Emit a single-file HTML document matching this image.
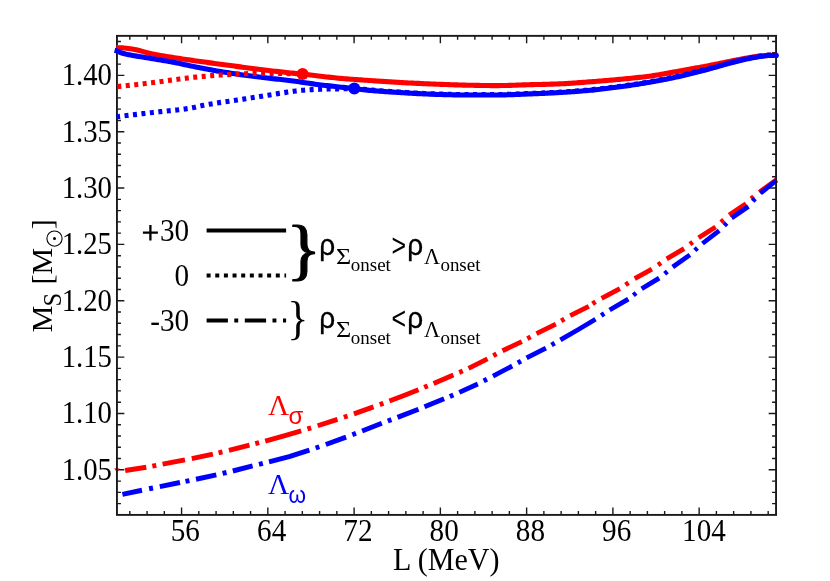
<!DOCTYPE html>
<html><head><meta charset="utf-8"><title>plot</title>
<style>html,body{margin:0;padding:0;background:#fff;overflow:hidden}svg{display:block;will-change:transform}text{font-family:"Liberation Serif",serif}</style>
</head><body>
<svg width="830" height="581" viewBox="0 0 830 581">
<rect x="0" y="0" width="830" height="581" fill="#fff"/>
<g stroke="#1a1a1a" fill="none" stroke-linecap="butt">
<path d="M129.81 514.90 v-4.00 M129.81 35.86 v4.00 M147.06 514.90 v-4.00 M147.06 35.86 v4.00 M164.32 514.90 v-4.00 M164.32 35.86 v4.00 M181.57 514.90 v-7.40 M181.57 35.86 v7.40 M198.82 514.90 v-4.00 M198.82 35.86 v4.00 M216.08 514.90 v-4.00 M216.08 35.86 v4.00 M233.33 514.90 v-4.00 M233.33 35.86 v4.00 M250.58 514.90 v-4.00 M250.58 35.86 v4.00 M267.83 514.90 v-7.40 M267.83 35.86 v7.40 M285.09 514.90 v-4.00 M285.09 35.86 v4.00 M302.34 514.90 v-4.00 M302.34 35.86 v4.00 M319.59 514.90 v-4.00 M319.59 35.86 v4.00 M336.85 514.90 v-4.00 M336.85 35.86 v4.00 M354.10 514.90 v-7.40 M354.10 35.86 v7.40 M371.35 514.90 v-4.00 M371.35 35.86 v4.00 M388.60 514.90 v-4.00 M388.60 35.86 v4.00 M405.86 514.90 v-4.00 M405.86 35.86 v4.00 M423.11 514.90 v-4.00 M423.11 35.86 v4.00 M440.36 514.90 v-7.40 M440.36 35.86 v7.40 M457.61 514.90 v-4.00 M457.61 35.86 v4.00 M474.87 514.90 v-4.00 M474.87 35.86 v4.00 M492.12 514.90 v-4.00 M492.12 35.86 v4.00 M509.37 514.90 v-4.00 M509.37 35.86 v4.00 M526.63 514.90 v-7.40 M526.63 35.86 v7.40 M543.88 514.90 v-4.00 M543.88 35.86 v4.00 M561.13 514.90 v-4.00 M561.13 35.86 v4.00 M578.38 514.90 v-4.00 M578.38 35.86 v4.00 M595.64 514.90 v-4.00 M595.64 35.86 v4.00 M612.89 514.90 v-7.40 M612.89 35.86 v7.40 M630.14 514.90 v-4.00 M630.14 35.86 v4.00 M647.40 514.90 v-4.00 M647.40 35.86 v4.00 M664.65 514.90 v-4.00 M664.65 35.86 v4.00 M681.90 514.90 v-4.00 M681.90 35.86 v4.00 M699.15 514.90 v-7.40 M699.15 35.86 v7.40 M716.41 514.90 v-4.00 M716.41 35.86 v4.00 M733.66 514.90 v-4.00 M733.66 35.86 v4.00 M750.91 514.90 v-4.00 M750.91 35.86 v4.00 M768.17 514.90 v-4.00 M768.17 35.86 v4.00 M116.95 503.62 h4.00 M776.05 503.62 h-4.00 M116.95 492.35 h4.00 M776.05 492.35 h-4.00 M116.95 481.08 h4.00 M776.05 481.08 h-4.00 M116.95 469.81 h7.40 M776.05 469.81 h-7.40 M116.95 458.54 h4.00 M776.05 458.54 h-4.00 M116.95 447.27 h4.00 M776.05 447.27 h-4.00 M116.95 436.00 h4.00 M776.05 436.00 h-4.00 M116.95 424.73 h4.00 M776.05 424.73 h-4.00 M116.95 413.46 h7.40 M776.05 413.46 h-7.40 M116.95 402.19 h4.00 M776.05 402.19 h-4.00 M116.95 390.92 h4.00 M776.05 390.92 h-4.00 M116.95 379.65 h4.00 M776.05 379.65 h-4.00 M116.95 368.38 h4.00 M776.05 368.38 h-4.00 M116.95 357.11 h7.40 M776.05 357.11 h-7.40 M116.95 345.84 h4.00 M776.05 345.84 h-4.00 M116.95 334.57 h4.00 M776.05 334.57 h-4.00 M116.95 323.30 h4.00 M776.05 323.30 h-4.00 M116.95 312.03 h4.00 M776.05 312.03 h-4.00 M116.95 300.76 h7.40 M776.05 300.76 h-7.40 M116.95 289.49 h4.00 M776.05 289.49 h-4.00 M116.95 278.22 h4.00 M776.05 278.22 h-4.00 M116.95 266.95 h4.00 M776.05 266.95 h-4.00 M116.95 255.68 h4.00 M776.05 255.68 h-4.00 M116.95 244.41 h7.40 M776.05 244.41 h-7.40 M116.95 233.14 h4.00 M776.05 233.14 h-4.00 M116.95 221.87 h4.00 M776.05 221.87 h-4.00 M116.95 210.60 h4.00 M776.05 210.60 h-4.00 M116.95 199.33 h4.00 M776.05 199.33 h-4.00 M116.95 188.06 h7.40 M776.05 188.06 h-7.40 M116.95 176.79 h4.00 M776.05 176.79 h-4.00 M116.95 165.52 h4.00 M776.05 165.52 h-4.00 M116.95 154.25 h4.00 M776.05 154.25 h-4.00 M116.95 142.98 h4.00 M776.05 142.98 h-4.00 M116.95 131.71 h7.40 M776.05 131.71 h-7.40 M116.95 120.44 h4.00 M776.05 120.44 h-4.00 M116.95 109.17 h4.00 M776.05 109.17 h-4.00 M116.95 97.90 h4.00 M776.05 97.90 h-4.00 M116.95 86.63 h4.00 M776.05 86.63 h-4.00 M116.95 75.36 h7.40 M776.05 75.36 h-7.40 M116.95 64.09 h4.00 M776.05 64.09 h-4.00 M116.95 52.82 h4.00 M776.05 52.82 h-4.00 M116.95 41.55 h4.00 M776.05 41.55 h-4.00" stroke-width="1.4"/>
</g>
<g fill="none" stroke-linejoin="round" stroke-linecap="butt" stroke-width="5.10">
<path d="M125.20 470.51 L146.30 467.20" stroke="#ff0000" stroke-width="5.01"/>
<path d="M152.32 466.11 L156.28 465.35" stroke="#ff0000" stroke-width="4.99"/>
<path d="M162.60 464.12 L185.00 459.88" stroke="#ff0000" stroke-width="5.00"/>
<path d="M191.80 458.59 L212.90 454.16" stroke="#ff0000" stroke-width="4.98"/>
<path d="M218.56 452.84 L222.44 451.92" stroke="#ff0000" stroke-width="4.97"/>
<path d="M228.90 450.35 L249.50 445.21" stroke="#ff0000" stroke-width="4.96"/>
<path d="M255.28 443.70 L259.12 442.69" stroke="#ff0000" stroke-width="4.95"/>
<path d="M265.20 441.06 L283.20 436.05 L301.20 430.81" stroke="#ff0000" stroke-width="4.94"/>
<path d="M307.42 428.94 L311.18 427.79" stroke="#ff0000" stroke-width="4.93"/>
<path d="M317.70 425.78 L337.50 419.41" stroke="#ff0000" stroke-width="4.92"/>
<path d="M343.85 417.29 L347.55 416.04" stroke="#ff0000" stroke-width="4.91"/>
<path d="M353.90 413.87 L373.50 406.92" stroke="#ff0000" stroke-width="4.90"/>
<path d="M379.78 404.62 L383.42 403.28" stroke="#ff0000" stroke-width="4.89"/>
<path d="M389.40 401.03 L403.95 395.44 L418.50 389.66" stroke="#ff0000" stroke-width="4.88"/>
<path d="M424.17 387.35 L427.73 385.89" stroke="#ff0000" stroke-width="4.87"/>
<path d="M433.60 383.45 L453.40 374.99" stroke="#ff0000" stroke-width="4.86"/>
<path d="M459.25 372.42 L462.75 370.88" stroke="#ff0000" stroke-width="4.85"/>
<path d="M468.50 368.34 L487.50 358.80" stroke="#ff0000" stroke-width="4.81"/>
<path d="M493.25 355.69 L496.55 353.92" stroke="#ff0000" stroke-width="4.80"/>
<path d="M502.50 350.80 L521.80 341.60" stroke="#ff0000" stroke-width="4.84"/>
<path d="M527.36 338.59 L530.64 336.82" stroke="#ff0000" stroke-width="4.80"/>
<path d="M536.50 333.70 L555.80 324.10" stroke="#ff0000" stroke-width="4.83"/>
<path d="M561.16 320.90 L564.34 319.02" stroke="#ff0000" stroke-width="4.77"/>
<path d="M570.20 315.70 L588.80 306.40" stroke="#ff0000" stroke-width="4.84"/>
<path d="M592.48 303.85 L595.52 301.84" stroke="#ff0000" stroke-width="4.74"/>
<path d="M601.60 298.30 L619.90 288.70" stroke="#ff0000" stroke-width="4.82"/>
<path d="M625.56 284.83 L628.54 282.78" stroke="#ff0000" stroke-width="4.72"/>
<path d="M634.70 278.70 L651.90 269.20" stroke="#ff0000" stroke-width="4.81"/>
<path d="M658.04 265.03 L660.96 262.95" stroke="#ff0000" stroke-width="4.70"/>
<path d="M666.70 258.80 L684.10 248.70" stroke="#ff0000" stroke-width="4.80"/>
<path d="M689.89 244.20 L692.71 242.04" stroke="#ff0000" stroke-width="4.67"/>
<path d="M698.60 237.80 L715.60 227.00" stroke="#ff0000" stroke-width="4.77"/>
<path d="M720.99 222.19 L723.61 219.83" stroke="#ff0000" stroke-width="4.65"/>
<path d="M729.20 215.00 L746.00 203.60" stroke="#ff0000" stroke-width="4.75"/>
<path d="M751.08 198.71 L753.72 196.39" stroke="#ff0000" stroke-width="4.65"/>
<path d="M759.30 192.10 L776.60 179.56" stroke="#ff0000" stroke-width="4.70"/>
<path d="M122.40 494.34 L142.00 490.20" stroke="#0000ff" stroke-width="4.98"/>
<path d="M149.08 488.75 L153.02 487.96" stroke="#0000ff" stroke-width="4.99"/>
<path d="M159.80 486.59 L180.00 482.53" stroke="#0000ff" stroke-width="4.99"/>
<path d="M185.48 481.42 L189.42 480.61" stroke="#0000ff" stroke-width="4.98"/>
<path d="M196.00 479.25 L216.30 474.86" stroke="#0000ff" stroke-width="4.98"/>
<path d="M222.60 473.42 L226.50 472.51" stroke="#0000ff" stroke-width="4.97"/>
<path d="M232.80 471.01 L252.60 465.97" stroke="#0000ff" stroke-width="4.96"/>
<path d="M258.97 464.34 L262.83 463.38" stroke="#0000ff" stroke-width="4.96"/>
<path d="M269.00 461.83 L289.20 456.56 L309.40 450.20" stroke="#0000ff" stroke-width="4.95"/>
<path d="M315.66 447.99 L319.34 446.71" stroke="#0000ff" stroke-width="4.90"/>
<path d="M325.80 444.44 L346.10 437.10" stroke="#0000ff" stroke-width="4.90"/>
<path d="M352.35 434.72 L355.95 433.34" stroke="#0000ff" stroke-width="4.88"/>
<path d="M362.10 430.96 L381.80 423.31" stroke="#0000ff" stroke-width="4.88"/>
<path d="M387.79 421.03 L391.41 419.66" stroke="#0000ff" stroke-width="4.89"/>
<path d="M397.50 417.36 L418.50 409.21" stroke="#0000ff" stroke-width="4.88"/>
<path d="M424.50 406.82 L444.10 398.81" stroke="#0000ff" stroke-width="4.87"/>
<path d="M449.84 396.40 L453.36 394.90" stroke="#0000ff" stroke-width="4.86"/>
<path d="M459.30 392.35 L477.80 383.94" stroke="#0000ff" stroke-width="4.85"/>
<path d="M483.64 380.97 L486.96 379.25" stroke="#0000ff" stroke-width="4.81"/>
<path d="M493.00 376.06 L512.20 366.00" stroke="#0000ff" stroke-width="4.81"/>
<path d="M517.79 362.91 L521.01 361.07" stroke="#0000ff" stroke-width="4.78"/>
<path d="M526.60 357.80 L545.90 348.20" stroke="#0000ff" stroke-width="4.83"/>
<path d="M551.50 344.94 L554.70 343.08" stroke="#0000ff" stroke-width="4.77"/>
<path d="M560.40 339.80 L577.95 329.78 L595.50 319.30" stroke="#0000ff" stroke-width="4.78"/>
<path d="M601.19 315.51 L604.21 313.50" stroke="#0000ff" stroke-width="4.73"/>
<path d="M609.60 310.00 L628.30 299.20" stroke="#0000ff" stroke-width="4.80"/>
<path d="M633.32 295.21 L636.08 293.02" stroke="#0000ff" stroke-width="4.66"/>
<path d="M641.65 288.80 L659.20 278.10" stroke="#0000ff" stroke-width="4.78"/>
<path d="M664.65 273.81 L667.35 271.56" stroke="#0000ff" stroke-width="4.65"/>
<path d="M672.70 267.00 L689.90 254.90" stroke="#0000ff" stroke-width="4.73"/>
<path d="M694.81 250.40 L697.39 248.02" stroke="#0000ff" stroke-width="4.65"/>
<path d="M702.50 243.50 L719.20 230.60" stroke="#0000ff" stroke-width="4.69"/>
<path d="M724.28 225.55 L726.72 223.02" stroke="#0000ff" stroke-width="4.65"/>
<path d="M731.60 218.00 L748.40 206.60" stroke="#0000ff" stroke-width="4.78"/>
<path d="M752.73 201.29 L755.07 198.64" stroke="#0000ff" stroke-width="4.65"/>
<path d="M760.50 193.30 L776.40 180.46" stroke="#0000ff" stroke-width="4.66"/>
</g>
<path d="M114.2 468.3 L119.7 468.5 L117.1 472.8 Z" fill="#ff0000"/>
<rect x="116.95" y="35.86" width="659.10" height="479.04" stroke="#1a1a1a" fill="none" stroke-width="1.9"/>
<g fill="none" stroke-linejoin="round" stroke-linecap="butt" stroke-width="5.10">
<path d="M116.20 47.66 L118.20 47.74 L120.21 47.81 L122.21 47.90 L124.22 48.01 L126.22 48.18 L128.22 48.41 L130.23 48.68 L132.23 49.01 L134.24 49.41 L136.24 49.86 L138.24 50.32 L140.25 50.81 L142.25 51.34 L144.26 51.91 L146.26 52.46 L148.26 52.96 L150.27 53.42 L152.27 53.87 L154.27 54.29 L156.28 54.70 L158.28 55.08 L160.29 55.45 L162.29 55.80 L164.29 56.12 L166.30 56.43 L168.30 56.74 L170.31 57.05 L172.31 57.36 L174.31 57.68 L176.32 57.99 L178.32 58.30 L180.33 58.60 L182.33 58.90 L184.33 59.20 L186.34 59.50 L188.34 59.79 L190.35 60.08 L192.35 60.37 L194.35 60.66 L196.36 60.94 L198.36 61.22 L200.37 61.50 L202.37 61.78 L204.37 62.06 L206.38 62.33 L208.38 62.60 L210.39 62.88 L212.39 63.15 L214.39 63.41 L216.40 63.68 L218.40 63.95 L220.40 64.22 L222.41 64.48 L224.41 64.75 L226.42 65.02 L228.42 65.28 L230.42 65.55 L232.43 65.82 L234.43 66.09 L236.44 66.36 L238.44 66.62 L240.44 66.89 L242.45 67.16 L244.45 67.42 L246.46 67.69 L248.46 67.95 L250.46 68.21 L252.47 68.47 L254.47 68.72 L256.48 68.97 L258.48 69.22 L260.48 69.47 L262.49 69.72 L264.49 69.96 L266.50 70.21 L268.50 70.45 L270.50 70.69 L272.51 70.93 L274.51 71.17 L276.52 71.40 L278.52 71.64 L280.52 71.86 L282.53 72.09 L284.53 72.31 L286.53 72.53 L288.54 72.75 L290.54 72.96 L292.55 73.16 L294.55 73.35 L296.55 73.54 L298.56 73.72 L300.56 73.92 L302.57 74.12 L304.57 74.33 L306.57 74.55 L308.58 74.77 L310.58 75.00 L312.59 75.24 L314.59 75.47 L316.59 75.71 L318.60 75.95 L320.60 76.20 L322.61 76.44 L324.61 76.67 L326.61 76.91 L328.62 77.14 L330.62 77.36 L332.63 77.58 L334.63 77.79 L336.63 77.99 L338.64 78.18 L340.64 78.36 L342.65 78.53 L344.65 78.70 L346.65 78.86 L348.66 79.02 L350.66 79.17 L352.66 79.33 L354.67 79.47 L356.67 79.62 L358.68 79.76 L360.68 79.90 L362.68 80.04 L364.69 80.18 L366.69 80.31 L368.70 80.45 L370.70 80.58 L372.70 80.71 L374.71 80.84 L376.71 80.98 L378.72 81.11 L380.72 81.24 L382.72 81.37 L384.73 81.50 L386.73 81.63 L388.74 81.76 L390.74 81.89 L392.74 82.01 L394.75 82.14 L396.75 82.26 L398.76 82.38 L400.76 82.50 L402.76 82.61 L404.77 82.72 L406.77 82.83 L408.78 82.94 L410.78 83.04 L412.78 83.14 L414.79 83.24 L416.79 83.33 L418.79 83.42 L420.80 83.52 L422.80 83.60 L424.81 83.69 L426.81 83.78 L428.81 83.86 L430.82 83.94 L432.82 84.02 L434.83 84.10 L436.83 84.18 L438.83 84.26 L440.84 84.33 L442.84 84.41 L444.85 84.48 L446.85 84.56 L448.85 84.63 L450.86 84.70 L452.86 84.77 L454.87 84.84 L456.87 84.91 L458.87 84.97 L460.88 85.03 L462.88 85.09 L464.89 85.14 L466.89 85.18 L468.89 85.22 L470.90 85.26 L472.90 85.30 L474.91 85.34 L476.91 85.38 L478.91 85.41 L480.92 85.45 L482.92 85.48 L484.92 85.51 L486.93 85.54 L488.93 85.56 L490.94 85.58 L492.94 85.59 L494.94 85.60 L496.95 85.60 L498.95 85.59 L500.96 85.57 L502.96 85.54 L504.96 85.50 L506.97 85.46 L508.97 85.40 L510.98 85.34 L512.98 85.28 L514.98 85.21 L516.99 85.14 L518.99 85.06 L521.00 84.99 L523.00 84.92 L525.00 84.85 L527.01 84.79 L529.01 84.73 L531.02 84.67 L533.02 84.62 L535.02 84.57 L537.03 84.52 L539.03 84.47 L541.04 84.43 L543.04 84.38 L545.04 84.33 L547.05 84.28 L549.05 84.22 L551.05 84.16 L553.06 84.10 L555.06 84.04 L557.07 83.97 L559.07 83.89 L561.07 83.81 L563.08 83.71 L565.08 83.60 L567.09 83.49 L569.09 83.36 L571.09 83.23 L573.10 83.09 L575.10 82.95 L577.11 82.80 L579.11 82.65 L581.11 82.50 L583.12 82.35 L585.12 82.20 L587.13 82.05 L589.13 81.90 L591.13 81.75 L593.14 81.60 L595.14 81.44 L597.15 81.28 L599.15 81.12 L601.15 80.96 L603.16 80.79 L605.16 80.62 L607.17 80.45 L609.17 80.28 L611.17 80.10 L613.18 79.92 L615.18 79.74 L617.18 79.56 L619.19 79.37 L621.19 79.18 L623.20 79.00 L625.20 78.81 L627.20 78.62 L629.21 78.42 L631.21 78.23 L633.22 78.03 L635.22 77.82 L637.22 77.61 L639.23 77.39 L641.23 77.17 L643.24 76.94 L645.24 76.70 L647.24 76.45 L649.25 76.20 L651.25 75.93 L653.26 75.64 L655.26 75.34 L657.26 75.02 L659.27 74.68 L661.27 74.34 L663.28 73.98 L665.28 73.62 L667.28 73.25 L669.29 72.87 L671.29 72.50 L673.30 72.12 L675.30 71.75 L677.30 71.39 L679.31 71.03 L681.31 70.67 L683.31 70.31 L685.32 69.95 L687.32 69.59 L689.33 69.23 L691.33 68.87 L693.33 68.50 L695.34 68.13 L697.34 67.77 L699.35 67.39 L701.35 67.02 L703.35 66.64 L705.36 66.27 L707.36 65.88 L709.37 65.50 L711.37 65.10 L713.37 64.70 L715.38 64.29 L717.38 63.88 L719.39 63.47 L721.39 63.06 L723.39 62.64 L725.40 62.23 L727.40 61.82 L729.41 61.41 L731.41 61.02 L733.41 60.62 L735.42 60.24 L737.42 59.87 L739.43 59.48 L741.43 59.10 L743.43 58.71 L745.44 58.32 L747.44 57.94 L749.44 57.58 L751.45 57.23 L753.45 56.91 L755.46 56.62 L757.46 56.36 L759.46 56.13 L761.47 55.91 L763.47 55.70 L765.48 55.53 L767.48 55.42 L769.48 55.35 L771.49 55.30 L773.49 55.25 L775.50 55.22 L777.50 55.20" stroke="#ff0000"/>
<path d="M114.60 50.23 L116.61 50.73 L118.61 51.73 L120.62 52.54 L122.62 53.23 L124.63 53.81 L126.63 54.28 L128.64 54.69 L130.65 55.06 L132.65 55.41 L134.66 55.77 L136.66 56.12 L138.67 56.45 L140.67 56.78 L142.68 57.10 L144.69 57.43 L146.69 57.75 L148.70 58.08 L150.70 58.42 L152.71 58.75 L154.72 59.08 L156.72 59.42 L158.73 59.75 L160.73 60.09 L162.74 60.42 L164.74 60.76 L166.75 61.09 L168.76 61.43 L170.76 61.78 L172.77 62.14 L174.77 62.53 L176.78 62.93 L178.78 63.34 L180.79 63.77 L182.80 64.20 L184.80 64.64 L186.81 65.07 L188.81 65.51 L190.82 65.94 L192.82 66.37 L194.83 66.79 L196.84 67.20 L198.84 67.59 L200.85 67.97 L202.85 68.35 L204.86 68.73 L206.86 69.10 L208.87 69.47 L210.88 69.83 L212.88 70.19 L214.89 70.54 L216.89 70.89 L218.90 71.24 L220.91 71.58 L222.91 71.91 L224.92 72.24 L226.92 72.56 L228.93 72.88 L230.93 73.19 L232.94 73.49 L234.95 73.80 L236.95 74.09 L238.96 74.39 L240.96 74.68 L242.97 74.96 L244.97 75.24 L246.98 75.52 L248.99 75.79 L250.99 76.06 L253.00 76.32 L255.00 76.58 L257.01 76.84 L259.01 77.09 L261.02 77.33 L263.03 77.56 L265.03 77.79 L267.04 78.02 L269.04 78.24 L271.05 78.45 L273.05 78.67 L275.06 78.89 L277.07 79.11 L279.07 79.33 L281.08 79.55 L283.08 79.77 L285.09 80.01 L287.10 80.24 L289.10 80.49 L291.11 80.74 L293.11 81.01 L295.12 81.28 L297.12 81.56 L299.13 81.85 L301.14 82.14 L303.14 82.43 L305.15 82.73 L307.15 83.02 L309.16 83.32 L311.16 83.61 L313.17 83.89 L315.18 84.17 L317.18 84.44 L319.19 84.70 L321.19 84.95 L323.20 85.19 L325.20 85.42 L327.21 85.65 L329.22 85.88 L331.22 86.10 L333.23 86.32 L335.23 86.54 L337.24 86.75 L339.24 86.97 L341.25 87.18 L343.26 87.39 L345.26 87.61 L347.27 87.82 L349.27 88.04 L351.28 88.26 L353.29 88.48 L355.29 88.71 L357.30 88.96 L359.30 89.20 L361.31 89.45 L363.31 89.70 L365.32 89.93 L367.33 90.15 L369.33 90.34 L371.34 90.52 L373.34 90.69 L375.35 90.85 L377.35 91.01 L379.36 91.16 L381.37 91.31 L383.37 91.45 L385.38 91.59 L387.38 91.72 L389.39 91.86 L391.39 91.99 L393.40 92.12 L395.41 92.25 L397.41 92.37 L399.42 92.50 L401.42 92.63 L403.43 92.76 L405.43 92.89 L407.44 93.01 L409.45 93.13 L411.45 93.25 L413.46 93.36 L415.46 93.47 L417.47 93.58 L419.48 93.67 L421.48 93.77 L423.49 93.86 L425.49 93.96 L427.50 94.05 L429.50 94.13 L431.51 94.22 L433.52 94.29 L435.52 94.37 L437.53 94.43 L439.53 94.49 L441.54 94.54 L443.54 94.59 L445.55 94.64 L447.56 94.69 L449.56 94.74 L451.57 94.79 L453.57 94.83 L455.58 94.87 L457.58 94.91 L459.59 94.94 L461.60 94.96 L463.60 94.98 L465.61 95.00 L467.61 95.00 L469.62 95.00 L471.62 95.00 L473.63 95.00 L475.64 95.00 L477.64 95.00 L479.65 95.00 L481.65 95.00 L483.66 95.00 L485.67 95.00 L487.67 95.00 L489.68 95.00 L491.68 95.00 L493.69 95.00 L495.69 95.00 L497.70 95.00 L499.71 94.98 L501.71 94.96 L503.72 94.92 L505.72 94.87 L507.73 94.81 L509.73 94.75 L511.74 94.67 L513.75 94.59 L515.75 94.51 L517.76 94.42 L519.76 94.34 L521.77 94.25 L523.77 94.16 L525.78 94.07 L527.79 93.99 L529.79 93.91 L531.80 93.83 L533.80 93.75 L535.81 93.67 L537.81 93.59 L539.82 93.51 L541.83 93.43 L543.83 93.34 L545.84 93.25 L547.84 93.16 L549.85 93.07 L551.86 92.97 L553.86 92.87 L555.87 92.76 L557.87 92.66 L559.88 92.55 L561.88 92.43 L563.89 92.31 L565.90 92.18 L567.90 92.05 L569.91 91.91 L571.91 91.77 L573.92 91.63 L575.92 91.48 L577.93 91.32 L579.94 91.17 L581.94 91.00 L583.95 90.83 L585.95 90.66 L587.96 90.49 L589.96 90.30 L591.97 90.11 L593.98 89.91 L595.98 89.70 L597.99 89.48 L599.99 89.26 L602.00 89.03 L604.00 88.79 L606.01 88.55 L608.02 88.30 L610.02 88.05 L612.03 87.80 L614.03 87.54 L616.04 87.29 L618.05 87.02 L620.05 86.76 L622.06 86.49 L624.06 86.21 L626.07 85.93 L628.07 85.65 L630.08 85.36 L632.09 85.06 L634.09 84.76 L636.10 84.46 L638.10 84.15 L640.11 83.83 L642.11 83.51 L644.12 83.18 L646.13 82.85 L648.13 82.52 L650.14 82.18 L652.14 81.83 L654.15 81.47 L656.15 81.11 L658.16 80.74 L660.17 80.36 L662.17 79.97 L664.18 79.58 L666.18 79.18 L668.19 78.78 L670.19 78.36 L672.20 77.94 L674.21 77.52 L676.21 77.09 L678.22 76.65 L680.22 76.21 L682.23 75.75 L684.24 75.28 L686.24 74.81 L688.25 74.32 L690.25 73.82 L692.26 73.32 L694.26 72.81 L696.27 72.30 L698.28 71.78 L700.28 71.26 L702.29 70.74 L704.29 70.22 L706.30 69.69 L708.30 69.17 L710.31 68.63 L712.32 68.08 L714.32 67.53 L716.33 66.96 L718.33 66.39 L720.34 65.81 L722.34 65.24 L724.35 64.67 L726.36 64.10 L728.36 63.55 L730.37 63.00 L732.37 62.48 L734.38 61.96 L736.38 61.47 L738.39 61.00 L740.40 60.52 L742.40 60.04 L744.41 59.58 L746.41 59.12 L748.42 58.68 L750.43 58.25 L752.43 57.85 L754.44 57.48 L756.44 57.14 L758.45 56.83 L760.45 56.53 L762.46 56.23 L764.47 55.95 L766.47 55.72 L768.48 55.56 L770.48 55.49 L772.49 55.45 L774.49 55.43 L776.50 55.41" stroke="#0000ff"/>
<circle cx="776.3" cy="55.4" r="2.55" fill="#0000ff" stroke="none"/>
<path d="M117.30 86.54 L119.31 86.35 L121.32 86.16 L123.34 85.96 L125.35 85.76 L127.36 85.56 L129.37 85.35 L131.38 85.13 L133.40 84.92 L135.41 84.70 L137.42 84.47 L139.43 84.24 L141.44 84.01 L143.46 83.78 L145.47 83.54 L147.48 83.30 L149.49 83.06 L151.50 82.81 L153.52 82.56 L155.53 82.29 L157.54 82.01 L159.55 81.73 L161.56 81.45 L163.57 81.17 L165.59 80.89 L167.60 80.61 L169.61 80.35 L171.62 80.09 L173.63 79.83 L175.65 79.57 L177.66 79.30 L179.67 79.04 L181.68 78.78 L183.69 78.52 L185.71 78.27 L187.72 78.02 L189.73 77.78 L191.74 77.55 L193.75 77.32 L195.77 77.11 L197.78 76.91 L199.79 76.72 L201.80 76.53 L203.81 76.35 L205.83 76.17 L207.84 76.00 L209.85 75.83 L211.86 75.66 L213.87 75.50 L215.89 75.35 L217.90 75.21 L219.91 75.07 L221.92 74.94 L223.93 74.81 L225.95 74.70 L227.96 74.59 L229.97 74.49 L231.98 74.38 L233.99 74.28 L236.01 74.17 L238.02 74.07 L240.03 73.97 L242.04 73.88 L244.05 73.79 L246.07 73.71 L248.08 73.64 L250.09 73.59 L252.10 73.54 L254.11 73.51 L256.12 73.50 L258.14 73.50 L260.15 73.50 L262.16 73.50 L264.17 73.50 L266.18 73.50 L268.20 73.50 L270.21 73.50 L272.22 73.50 L274.23 73.50 L276.24 73.50 L278.26 73.51 L280.27 73.51 L282.28 73.53 L284.29 73.54 L286.30 73.56 L288.32 73.58 L290.33 73.60 L292.34 73.64 L294.35 73.71 L296.36 73.79 L298.38 73.88 L300.39 73.99 L302.40 74.10" stroke="#ff0000" stroke-dasharray="4 4.5" stroke-dashoffset="0"/>
<path d="M116.60 116.80 L118.61 116.55 L120.63 116.31 L122.64 116.07 L124.66 115.82 L126.67 115.58 L128.69 115.34 L130.70 115.09 L132.72 114.85 L134.73 114.61 L136.74 114.37 L138.76 114.13 L140.77 113.89 L142.79 113.65 L144.80 113.41 L146.82 113.17 L148.83 112.94 L150.84 112.70 L152.86 112.47 L154.87 112.25 L156.89 112.04 L158.90 111.83 L160.92 111.62 L162.93 111.41 L164.95 111.21 L166.96 111.01 L168.97 110.80 L170.99 110.59 L173.00 110.37 L175.02 110.15 L177.03 109.93 L179.05 109.69 L181.06 109.44 L183.08 109.19 L185.09 108.92 L187.10 108.63 L189.12 108.34 L191.13 108.01 L193.15 107.63 L195.16 107.20 L197.18 106.74 L199.19 106.27 L201.21 105.80 L203.22 105.35 L205.23 104.94 L207.25 104.58 L209.26 104.23 L211.28 103.89 L213.29 103.56 L215.31 103.25 L217.32 102.94 L219.33 102.63 L221.35 102.34 L223.36 102.05 L225.38 101.76 L227.39 101.47 L229.41 101.19 L231.42 100.90 L233.44 100.61 L235.45 100.32 L237.46 100.03 L239.48 99.73 L241.49 99.42 L243.51 99.11 L245.52 98.80 L247.54 98.48 L249.55 98.16 L251.57 97.84 L253.58 97.52 L255.59 97.20 L257.61 96.88 L259.62 96.56 L261.64 96.24 L263.65 95.91 L265.67 95.59 L267.68 95.27 L269.69 94.95 L271.71 94.63 L273.72 94.30 L275.74 93.97 L277.75 93.64 L279.77 93.31 L281.78 92.99 L283.80 92.68 L285.81 92.38 L287.82 92.09 L289.84 91.79 L291.85 91.49 L293.87 91.21 L295.88 90.95 L297.90 90.71 L299.91 90.51 L301.93 90.33 L303.94 90.17 L305.95 90.02 L307.97 89.89 L309.98 89.76 L312.00 89.65 L314.01 89.55 L316.03 89.46 L318.04 89.37 L320.06 89.30 L322.07 89.23 L324.08 89.16 L326.10 89.10 L328.11 89.05 L330.13 89.00 L332.14 88.95 L334.16 88.91 L336.17 88.87 L338.18 88.83 L340.20 88.79 L342.21 88.76 L344.23 88.72 L346.24 88.67 L348.26 88.63 L350.27 88.59 L352.29 88.54 L354.30 88.50" stroke="#0000ff" stroke-dasharray="4 4.5" stroke-dashoffset="0.5"/>
<path d="M354.30 88.15 L356.30 88.39 L358.30 88.63 L360.30 88.88 L362.30 89.13 L364.30 89.37 L366.31 89.59 L368.31 89.79 L370.31 89.98 L372.31 90.15 L374.31 90.32 L376.31 90.48 L378.31 90.63 L380.31 90.78 L382.31 90.93 L384.31 91.07 L386.32 91.20 L388.32 91.34 L390.32 91.47 L392.32 91.60 L394.32 91.73 L396.32 91.85 L398.32 91.98 L400.32 92.11 L402.32 92.24 L404.32 92.37 L406.32 92.49 L408.33 92.61 L410.33 92.73 L412.33 92.85 L414.33 92.96 L416.33 93.07 L418.33 93.17 L420.33 93.27 L422.33 93.36 L424.33 93.45 L426.33 93.55 L428.34 93.63 L430.34 93.72 L432.34 93.80 L434.34 93.87 L436.34 93.94 L438.34 94.00 L440.34 94.06 L442.34 94.11 L444.34 94.16 L446.34 94.21 L448.34 94.26 L450.35 94.31 L452.35 94.35 L454.35 94.40 L456.35 94.44 L458.35 94.47 L460.35 94.50 L462.35 94.52 L464.35 94.54 L466.35 94.55 L468.35 94.55 L470.35 94.55 L472.36 94.55 L474.36 94.55 L476.36 94.55 L478.36 94.55 L480.36 94.55 L482.36 94.55 L484.36 94.55 L486.36 94.55 L488.36 94.55 L490.36 94.55 L492.37 94.55 L494.37 94.55 L496.37 94.55 L498.37 94.55 L500.37 94.53 L502.37 94.50 L504.37 94.45 L506.37 94.40 L508.37 94.34 L510.37 94.27 L512.37 94.20 L514.38 94.12 L516.38 94.03 L518.38 93.95 L520.38 93.86 L522.38 93.77 L524.38 93.68 L526.38 93.60 L528.38 93.51 L530.38 93.44 L532.38 93.36 L534.39 93.28 L536.39 93.20 L538.39 93.12 L540.39 93.04 L542.39 92.95 L544.39 92.87 L546.39 92.78 L548.39 92.68 L550.39 92.59 L552.39 92.49 L554.39 92.39 L556.40 92.29 L558.40 92.18 L560.40 92.07 L562.40 91.95 L564.40 91.83 L566.40 91.70 L568.40 91.57 L570.40 91.43 L572.40 91.29 L574.40 91.14 L576.41 90.99 L578.41 90.84 L580.41 90.68 L582.41 90.51 L584.41 90.35 L586.41 90.17 L588.41 90.00 L590.41 89.81 L592.41 89.62 L594.41 89.41 L596.41 89.20 L598.42 88.98 L600.42 88.76 L602.42 88.53 L604.42 88.29 L606.42 88.05 L608.42 87.80 L610.42 87.55 L612.42 87.30 L614.42 87.04 L616.42 86.79 L618.43 86.53 L620.43 86.26 L622.43 85.99 L624.43 85.71 L626.43 85.43 L628.43 85.15 L630.43 84.86 L632.43 84.56 L634.43 84.26 L636.43 83.95 L638.43 83.64 L640.44 83.33 L642.44 83.01 L644.44 82.68 L646.44 82.35 L648.44 82.02 L650.44 81.67 L652.44 81.33 L654.44 80.97 L656.44 80.61 L658.44 80.24 L660.45 79.86 L662.45 79.47 L664.45 79.08 L666.45 78.68 L668.45 78.27 L670.45 77.86 L672.45 77.44 L674.45 77.02 L676.45 76.58 L678.45 76.15 L680.45 75.70 L682.46 75.25 L684.46 74.78 L686.46 74.30 L688.46 73.82 L690.46 73.32 L692.46 72.82 L694.46 72.31 L696.46 71.80 L698.46 71.28 L700.46 70.77 L702.46 70.24 L704.47 69.72 L706.47 69.20 L708.47 68.67 L710.47 68.14 L712.47 67.59 L714.47 67.03 L716.47 66.47 L718.47 65.90 L720.47 65.32 L722.47 64.75 L724.48 64.18 L726.48 63.62 L728.48 63.07 L730.48 62.52 L732.48 62.00 L734.48 61.49 L736.48 61.00 L738.48 60.53 L740.48 60.05 L742.48 59.58 L744.48 59.11 L746.49 58.65 L748.49 58.21 L750.49 57.79 L752.49 57.39 L754.49 57.02 L756.49 56.68 L758.49 56.38 L760.49 56.07 L762.49 55.77 L764.49 55.50 L766.50 55.27 L768.50 55.11 L770.50 55.04 L772.50 55.00 L774.50 54.98 L776.50 54.96" stroke="#0000ff" stroke-dasharray="4 4.5"/>
</g>
<circle cx="302.6" cy="74" r="6" fill="#ff0000"/>
<circle cx="354.3" cy="88.6" r="6" fill="#0000ff"/>
<text transform="translate(185.37,540.60) scale(1.000,1.070)" font-size="29.20px" text-anchor="middle" fill="#000000">56</text>
<text transform="translate(271.63,540.60) scale(1.000,1.070)" font-size="29.20px" text-anchor="middle" fill="#000000">64</text>
<text transform="translate(357.90,540.60) scale(1.000,1.070)" font-size="29.20px" text-anchor="middle" fill="#000000">72</text>
<text transform="translate(444.16,540.60) scale(1.000,1.070)" font-size="29.20px" text-anchor="middle" fill="#000000">80</text>
<text transform="translate(530.43,540.60) scale(1.000,1.070)" font-size="29.20px" text-anchor="middle" fill="#000000">88</text>
<text transform="translate(616.69,540.60) scale(1.000,1.070)" font-size="29.20px" text-anchor="middle" fill="#000000">96</text>
<text transform="translate(703.95,540.60) scale(1.000,1.070)" font-size="29.20px" text-anchor="middle" fill="#000000">104</text>
<text transform="translate(112.00,479.81) scale(0.985,1.070)" font-size="29.20px" text-anchor="end" fill="#000000">1.05</text>
<text transform="translate(112.00,423.46) scale(0.985,1.070)" font-size="29.20px" text-anchor="end" fill="#000000">1.10</text>
<text transform="translate(112.00,367.11) scale(0.985,1.070)" font-size="29.20px" text-anchor="end" fill="#000000">1.15</text>
<text transform="translate(112.00,310.76) scale(0.985,1.070)" font-size="29.20px" text-anchor="end" fill="#000000">1.20</text>
<text transform="translate(112.00,254.41) scale(0.985,1.070)" font-size="29.20px" text-anchor="end" fill="#000000">1.25</text>
<text transform="translate(112.00,198.06) scale(0.985,1.070)" font-size="29.20px" text-anchor="end" fill="#000000">1.30</text>
<text transform="translate(112.00,141.71) scale(0.985,1.070)" font-size="29.20px" text-anchor="end" fill="#000000">1.35</text>
<text transform="translate(112.00,85.36) scale(0.985,1.070)" font-size="29.20px" text-anchor="end" fill="#000000">1.40</text>
<text transform="translate(446.20,569.60) scale(1.030,1.070)" font-size="29.20px" text-anchor="middle" fill="#000000">L (MeV)</text>
<g transform="translate(52.1,332.4) rotate(-90)">
<text transform="translate(0.00,0.00) scale(1.040,1.020)" font-size="29.20px" text-anchor="start" fill="#000000">M</text>
<text transform="translate(25.90,9.00) scale(1.000,1.020)" font-size="24.50px" text-anchor="start" fill="#000000">S</text>
<text transform="translate(47.80,0.00) scale(1.040,1.020)" font-size="29.20px" text-anchor="start" fill="#000000">[</text>
<text transform="translate(57.60,0.00) scale(1.040,1.020)" font-size="29.20px" text-anchor="start" fill="#000000">M</text>
<circle cx="93.8" cy="2.4" r="7.6" fill="none" stroke="#000000" stroke-width="1.1"/>
<circle cx="93.8" cy="2.4" r="1.5" fill="#000000"/>
<text transform="translate(103.20,0.00) scale(1.040,1.020)" font-size="29.20px" text-anchor="start" fill="#000000">]</text>
</g>
<text transform="translate(189.20,241.30) scale(1.000,1.070)" font-size="29.20px" text-anchor="end" fill="#000000">30</text>
<path d="M142.9 232.7 H157.9 M150.4 224.9 V240.5" stroke="#000000" stroke-width="2.3" fill="none"/>
<text transform="translate(189.20,286.20) scale(1.000,1.070)" font-size="29.20px" text-anchor="end" fill="#000000">0</text>
<text transform="translate(189.20,331.20) scale(1.000,1.070)" font-size="29.20px" text-anchor="end" fill="#000000">-30</text>
<g stroke="#000000" stroke-width="4" fill="none">
<path d="M206.6 230.4 H286.1"/>
<path d="M206.6 275.6 H286.1" stroke-dasharray="4 4.65"/>
<path d="M206.6 320.5 H286.1" stroke-dasharray="21.3 6.4 3.9 6.6"/>
</g>
<text transform="translate(286.30,271.90) scale(1.100,1.020)" font-size="66.00px" text-anchor="start" fill="#000000" stroke="#000" stroke-width="1.1" stroke-linejoin="round">}</text>
<text transform="translate(287.30,333.90) scale(1.000,1.070)" font-size="44.00px" text-anchor="start" fill="#000000">}</text>
<text transform="translate(319.30,255.10) scale(1.000,1.070)" font-size="28.00px" text-anchor="start" fill="#000000" style="font-family:&quot;Liberation Sans&quot;,sans-serif" stroke="#000" stroke-width="0.3">ρ</text>
<text transform="translate(335.90,263.80) scale(1.200,1.070)" font-size="21.80px" text-anchor="start" fill="#000000">Σ</text>
<text transform="translate(350.80,270.70) scale(1.010,1.000)" font-size="18.80px" text-anchor="start" fill="#000000">onset</text>
<text transform="translate(391.50,256.35) scale(1.040,1.300)" font-size="24.00px" text-anchor="start" fill="#000000" style="font-family:&quot;Liberation Sans&quot;,sans-serif">&gt;</text>
<text transform="translate(407.20,255.10) scale(1.000,1.070)" font-size="28.00px" text-anchor="start" fill="#000000" style="font-family:&quot;Liberation Sans&quot;,sans-serif" stroke="#000" stroke-width="0.3">ρ</text>
<text transform="translate(424.00,263.80) scale(1.020,1.070)" font-size="21.80px" text-anchor="start" fill="#000000">Λ</text>
<text transform="translate(440.40,270.70) scale(1.010,1.000)" font-size="18.80px" text-anchor="start" fill="#000000">onset</text>
<text transform="translate(319.30,328.00) scale(1.000,1.070)" font-size="28.00px" text-anchor="start" fill="#000000" style="font-family:&quot;Liberation Sans&quot;,sans-serif" stroke="#000" stroke-width="0.3">ρ</text>
<text transform="translate(335.90,336.70) scale(1.200,1.070)" font-size="21.80px" text-anchor="start" fill="#000000">Σ</text>
<text transform="translate(350.80,343.60) scale(1.010,1.000)" font-size="18.80px" text-anchor="start" fill="#000000">onset</text>
<text transform="translate(391.50,329.25) scale(1.040,1.300)" font-size="24.00px" text-anchor="start" fill="#000000" style="font-family:&quot;Liberation Sans&quot;,sans-serif">&lt;</text>
<text transform="translate(407.20,328.00) scale(1.000,1.070)" font-size="28.00px" text-anchor="start" fill="#000000" style="font-family:&quot;Liberation Sans&quot;,sans-serif" stroke="#000" stroke-width="0.3">ρ</text>
<text transform="translate(424.00,336.70) scale(1.020,1.070)" font-size="21.80px" text-anchor="start" fill="#000000">Λ</text>
<text transform="translate(440.40,343.60) scale(1.010,1.000)" font-size="18.80px" text-anchor="start" fill="#000000">onset</text>
<text transform="translate(268.00,414.70) scale(1.000,1.030)" font-size="29.20px" text-anchor="start" fill="#ff0000">Λ</text>
<text transform="translate(288.60,423.70) scale(1.000,1.000)" font-size="24.00px" text-anchor="start" fill="#ff0000" style="font-family:&quot;Liberation Sans&quot;,sans-serif">σ</text>
<text transform="translate(268.00,493.70) scale(1.000,1.030)" font-size="29.20px" text-anchor="start" fill="#0000ff">Λ</text>
<text transform="translate(288.40,503.40) scale(1.000,1.080)" font-size="22.50px" text-anchor="start" fill="#0000ff" style="font-family:&quot;Liberation Sans&quot;,sans-serif">ω</text>
</svg></body></html>
